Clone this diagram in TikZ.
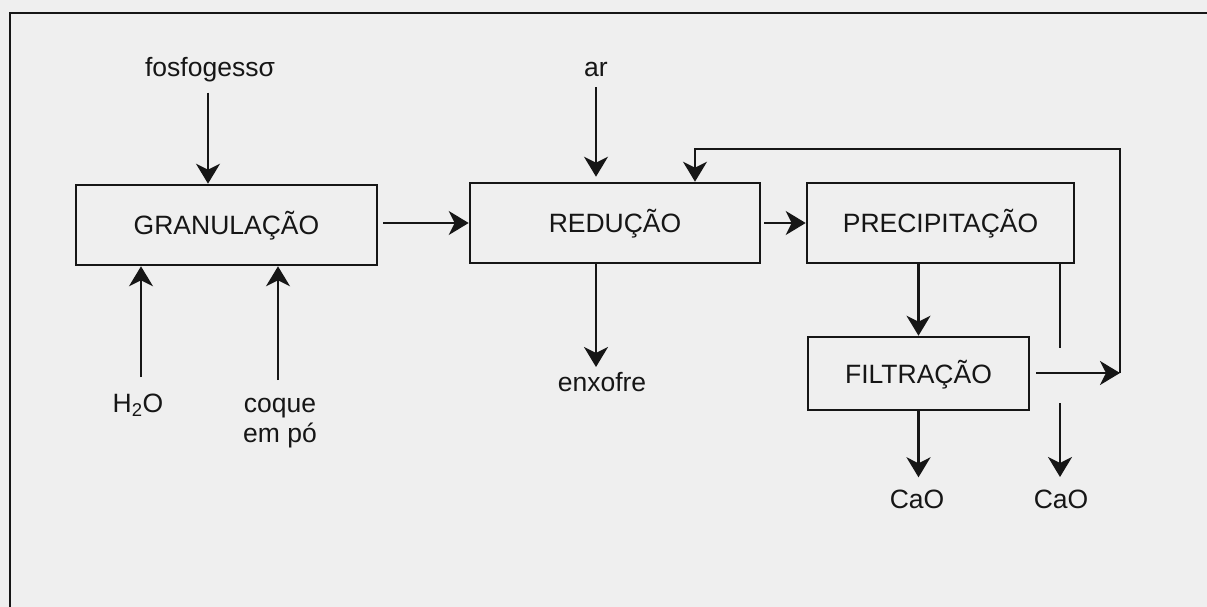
\documentclass[tikz,border=0pt]{standalone}
\usepackage{fontspec}
\setmainfont{Liberation Sans}
\usetikzlibrary{arrows.meta}
\definecolor{ink}{HTML}{161616}
\definecolor{paper}{HTML}{EFEFEF}
\begin{document}
\begin{tikzpicture}[x=1pt,y=-1pt,
  txt/.style={font=\fontsize{26.5}{30}\selectfont, text=ink},
  box/.style={txt, draw=ink, line width=2.6pt, inner sep=0pt,
    text height=19pt, text depth=0pt},
  lbl/.style={txt, inner sep=0pt, anchor=base},
  conn/.style={draw=ink, line width=2.3pt},
  arr/.style={conn, -{Stealth[length=20pt,width=24pt,inset=6pt]}}]
\fill[paper] (0,0) rectangle (1207,607);
\useasboundingbox (0,0) rectangle (1207,607);
% frame
\draw[ink, line width=2.6pt] (10,607) -- (10,13) -- (1207,13);
% boxes
\node[box, minimum width=301pt, minimum height=80pt] (gran) at (226.5,225) {GRANULAÇÃO};
\node[box, minimum width=290pt, minimum height=80pt] (red) at (615,223) {REDUÇÃO};
\node[box, minimum width=267pt, minimum height=80pt] (prec) at (940.5,223) {PRECIPITAÇÃO};
\node[box, minimum width=221pt, minimum height=73pt] (filt) at (918.5,373.5) {FILTRAÇÃO};
% labels
\node[lbl] (fos) at (210,77) {fosfogessσ};
\node[lbl] (ar) at (596,77) {ar};
\node[lbl] (h2o) at (138,412) {H\textsubscript{2}O};
\node[lbl] (coque) at (280,412) {coque};
\node[lbl] (empo) at (280,442) {em pó};
\node[lbl] (enx) at (602,391) {enxofre};
\node[lbl] (cao1) at (917,508) {CaO};
\node[lbl] (cao2) at (1061,508) {CaO};
% helper coordinates
\coordinate (h2oX) at (141,377);
\coordinate (coqX) at (278,380);
\coordinate (enxX) at (596,367);
\coordinate (r1) at (1060,348);
\coordinate (r2) at (1060,403);
\coordinate (fbR) at (1120,373);
\coordinate (fbT) at (1120,149);
\coordinate (fbL) at (695,149);
% connectors
\draw[arr, shorten <=10pt] (fos.south -| 208,0) -- (208,0 |- gran.north);
\draw[arr] (h2oX) -- (h2oX |- gran.south);
\draw[arr] (coqX) -- (coqX |- gran.south);
\draw[arr, shorten <=5pt] (gran.east |- red.west) -- (red.west);
\draw[arr, shorten <=10pt, shorten >=5pt] (ar.south) -- (ar.south |- red.north);
\draw[arr] (enxX |- red.south) -- (enxX);
\draw[arr, shorten <=3pt] (red.east) -- (prec.west);
\draw[arr] (filt.north |- prec.south) -- (filt.north);
\draw[arr, shorten >=12pt] (filt.south) -- (filt.south |- cao1.north);
\draw[conn] (prec.south -| r1) -- (r1);
\draw[arr] (r2) -- (r2 |- 0,477);
\draw[arr, shorten <=6pt] (filt.east |- fbR) -- (fbR);
\draw[arr] (fbR) -- (fbT) -- (fbL) -- (fbL |- red.north);
\end{tikzpicture}
\end{document}
